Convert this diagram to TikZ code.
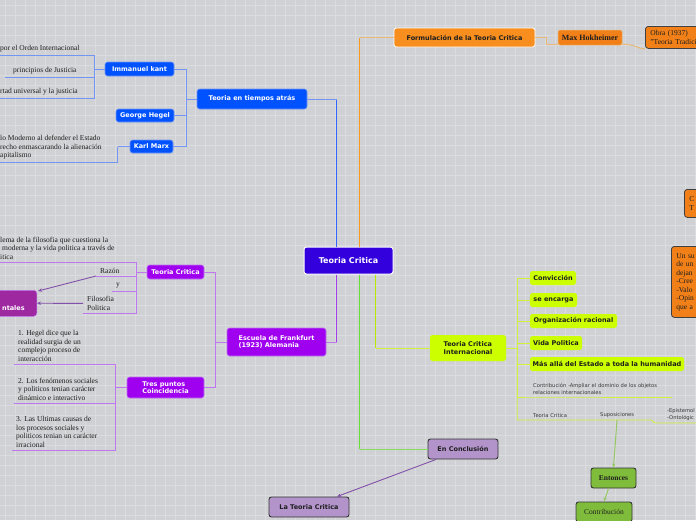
\documentclass[tikz,border=0pt]{standalone}
\usepackage{fontspec}
\setmainfont{Liberation Serif}
\setsansfont{DejaVu Sans}
\usetikzlibrary{arrows.meta}

\definecolor{bgc}{RGB}{208,209,212}
\definecolor{gridc}{RGB}{219,220,223}
\definecolor{rootc}{RGB}{51,0,221}
\definecolor{bluec}{RGB}{0,82,255}
\definecolor{bluelc}{RGB}{50,100,255}
\definecolor{bluesc}{RGB}{115,150,245}
\definecolor{orangec}{RGB}{247,142,30}
\definecolor{orange2c}{RGB}{242,128,24}
\definecolor{orangelc}{RGB}{250,155,30}
\definecolor{orangesc}{RGB}{232,185,120}
\definecolor{yellowc}{RGB}{204,255,0}
\definecolor{yellowlc}{RGB}{185,235,0}
\definecolor{yellowsc}{RGB}{212,240,60}
\definecolor{purplec}{RGB}{160,0,240}
\definecolor{purplelc}{RGB}{165,60,235}
\definecolor{purplesc}{RGB}{192,120,240}
\definecolor{magc}{RGB}{158,40,160}
\definecolor{lavc}{RGB}{178,148,202}
\definecolor{greenc}{RGB}{128,188,60}
\definecolor{greenlc}{RGB}{100,225,50}
\definecolor{greensc}{RGB}{135,222,95}
\definecolor{greenac}{RGB}{150,200,100}
\definecolor{parrowc}{RGB}{130,80,170}
\definecolor{inkc}{RGB}{30,30,30}
\definecolor{notec}{RGB}{55,55,55}

\tikzset{
  topic/.style={rounded corners=2.5pt, font=\sffamily\bfseries\fontsize{6.5}{7.6}\selectfont, inner sep=0pt, align=left},
  rootbox/.style={topic, fill=rootc, draw=white, line width=1pt, text=white, font=\sffamily\bfseries\fontsize{8}{9.5}\selectfont},
  bluebox/.style={topic, fill=bluec, draw=bluesc, line width=0.6pt, text=white},
  formbox/.style={topic, fill=orangec, draw=white, line width=0.8pt, text=inkc},
  maxbox/.style={rounded corners=1.5pt, fill=orange2c, draw=orangesc, line width=0.5pt, inner sep=0pt, text=inkc, font=\rmfamily\bfseries\fontsize{8}{9}\selectfont},
  obrabox/.style={rounded corners=3pt, fill=orange2c, draw=black!75, line width=0.8pt, inner xsep=5pt, inner ysep=2pt, align=left, text=inkc, font=\rmfamily\fontsize{7.5}{8.5}\selectfont},
  ybox/.style={topic, fill=yellowc, text=inkc},
  pbox/.style={topic, fill=purplec, draw=purplesc, line width=0.6pt, text=white},
  fbox/.style={rounded corners=3pt, fill=magc, draw=purplesc, line width=0.5pt, text=white, align=right, inner xsep=12pt, inner ysep=0pt, font=\sffamily\bfseries\fontsize{6.5}{10}\selectfont},
  lavbox/.style={topic, fill=lavc, draw=black!80, line width=0.9pt, text=inkc},
  gbox/.style={rounded corners=2.5pt, fill=greenc, draw=black!80, line width=0.9pt, inner sep=0pt, text=inkc, font=\rmfamily\fontsize{7.5}{8.5}\selectfont},
  leaf/.style={font=\rmfamily\fontsize{7.5}{8.5}\selectfont, align=left, inner xsep=4pt, inner ysep=2.5pt, text=inkc},
  note/.style={font=\sffamily\fontsize{5.2}{7}\selectfont, align=left, inner xsep=0pt, inner ysep=2pt, text=notec},
  bline/.style={draw=bluelc, line width=1.4pt},
  bsub/.style={draw=bluesc, line width=1pt},
  oline/.style={draw=orangelc, line width=1.4pt},
  osub/.style={draw=orangesc, line width=1pt},
  yline/.style={draw=yellowlc, line width=1.6pt},
  ysub/.style={draw=yellowsc, line width=0.8pt},
  pline/.style={draw=purplelc, line width=1.4pt},
  psub/.style={draw=purplesc, line width=1pt},
  gline/.style={draw=greenlc, line width=1.4pt},
  gsub/.style={draw=greensc, line width=1pt},
  garrow/.style={draw=greenac, line width=1pt, -{Stealth[length=4pt,width=3.5pt]}},
  parrow/.style={draw=parrowc, line width=0.9pt, -{Stealth[length=4pt,width=3.5pt]}}
}

\begin{document}
\begin{tikzpicture}[x=1pt,y=-1pt]
\useasboundingbox (0,0) rectangle (696,520);
\clip (0,0) rectangle (696,520);
\fill[bgc] (0,0) rectangle (696,520);
\foreach \i in {5,15,...,695} \draw[gridc, line width=0.5pt] (\i,0) -- (\i,520);
\foreach \j in {5,15,...,515} \draw[gridc, line width=0.5pt] (0,\j) -- (696,\j);

\node[rootbox, minimum width=89pt, minimum height=27pt] (root) at (348.5,260.5) {Teoria Critica};

\node[bluebox, minimum width=110pt, minimum height=20pt] (atras) at (252,99) {Teoria en tiempos atrás};
\node[bluebox, minimum width=69pt, minimum height=14pt] (kant) at (139.5,69) {Immanuel kant};
\node[bluebox, minimum width=58pt, minimum height=13pt] (hegel) at (145,115.5) {George Hegel};
\node[bluebox, minimum width=43pt, minimum height=13pt] (marx) at (151.5,146.5) {Karl Marx};
\node[leaf, anchor=south west] (kt1) at (-4,55) {por el Orden Internacional};
\node[leaf, anchor=south west, inner xsep=8pt] (kt2) at (5,77) {principios de Justicia};
\node[leaf, anchor=south west] (kt3) at (-4,98) {rtad universal y la justicia};
\node[leaf, anchor=south west] (mx1) at (-4,162) {lo Moderno al defender el Estado\\recho enmascarando la alienación\\apitalismo};
\coordinate (bc) at ([xshift=33pt]root.north west |- atras.east);
\draw[bline] ([xshift=33pt]root.north west) -- (bc);
\draw[bsub] (bc) -- (atras.east);
\draw[bsub] (kant.east) -| ([xshift=-10pt]atras.west) -- (atras.west);
\draw[bsub] (hegel.east) -| ([xshift=-10pt]atras.west);
\draw[bsub] (marx.east) -| ([xshift=-10pt]atras.west);
\draw[bsub] (kant.west) -- ++(-10,0) coordinate (kj);
\foreach \n in {kt1,kt2,kt3} \draw[bsub] (\n.south west) -| (kj);
\draw[bsub] (marx.west) -- ++(-12,0) coordinate (mj);
\draw[bsub] (mx1.south west) -| (mj);

\node[formbox, minimum width=141pt, minimum height=19pt] (form) at (464.5,37.5) {Formulación de la Teoria Critica};
\node[maxbox, minimum width=64pt, minimum height=15pt] (max) at (590,37.5) {Max Hokheimer};
\node[obrabox, anchor=north west, minimum width=70pt, minimum height=22pt, text width=60pt] (obra) at (645,26) {Obra (1937)\\"Teoria Tradicio};
\node[obrabox, anchor=north west, minimum width=30pt, minimum height=28pt, text width=20pt] (ob2) at (684,189) {C\\T};
\node[obrabox, anchor=north west, minimum width=40pt, minimum height=71pt, text width=30pt] (ob3) at (671,246) {Un su\\de un\\dejan\\-Cree\\-Valo\\-Opin\\que a};
\coordinate (oc) at ([xshift=56pt]root.north west |- form.west);
\draw[oline] ([xshift=56pt]root.north west) -- (oc);
\draw[osub] (oc) -- (form.west);
\draw[osub] (form.east) -- ++(11,0) |- ([yshift=1pt]max.south west);
\draw[osub] ([yshift=1pt]max.south east) .. controls +(14,0) and +(-8,0) .. (obra.south west);

\node[ybox, minimum width=76pt, minimum height=26pt] (tci) at (468,348) {Teoria Critica\\Internacional};
\node[ybox, minimum width=46pt, minimum height=14pt] (conv) at (553,278) {Convicción};
\node[ybox, minimum width=47pt, minimum height=14pt] (enc) at (553.5,300) {se encarga};
\node[ybox, minimum width=87pt, minimum height=14pt] (org) at (573.5,321) {Organización racional};
\node[ybox, minimum width=52pt, minimum height=14pt] (vida) at (556,343) {Vida Politica};
\node[ybox, minimum width=154pt, minimum height=14pt] (mas) at (607,364) {Más allá del Estado a toda la humanidad};
\node[note, anchor=south west, text width=139pt] (contr) at (533,397) {Contribución -Ampliar el dominio de los objetos\\relaciones internacionales};
\node[note, anchor=south west] (tc2) at (533,420) {Teoria Critica};
\node[note, anchor=south west, text width=50pt] (supo) at (600,420) {Suposiciones};
\node[note, anchor=south west, inner xsep=11pt, text width=40pt] (epi) at (656,423) {-Epistemol\\-Ontológic};
\coordinate (yc) at ([xshift=72pt]root.south west |- tci.west);
\draw[yline] ([xshift=72pt]root.south west) -- (yc);
\draw[ysub] (yc) -- (tci.west);
\draw[ysub] (tci.east) -- ++(11,0) coordinate (yj);
\foreach \n in {conv,enc,org,vida,mas} \draw[ysub] (\n.west) -| (yj);
\draw[ysub] (yj) |- (contr.south west) -- (contr.south east);
\draw[ysub] (yj) |- (supo.south east) .. controls +(4,0) and +(-4,0) .. (epi.south west) -- (epi.south east);

\node[gbox, font=\rmfamily\bfseries\fontsize{7.5}{8.5}\selectfont, minimum width=45pt, minimum height=20pt] (ent) at (613.5,478) {Entonces};
\node[gbox, minimum width=56pt, minimum height=20pt] (cont) at (604,512) {Contribución};
\draw[garrow] ([xshift=17pt]supo.south west) -- (ent.north);
\draw[garrow] ([xshift=-5pt]ent.south) -- (cont.north);

\node[lavbox, minimum width=70pt, minimum height=20pt] (conc) at (463,449) {En Conclusión};
\node[lavbox, minimum width=80pt, minimum height=20pt] (ltc) at (309,507) {La Teoria Critica};
\coordinate (gc) at ([xshift=56pt]root.south west |- conc.west);
\draw[gline] ([xshift=56pt]root.south west) -- (gc);
\draw[gsub] (gc) -- (conc.west);
\draw[parrow] ([xshift=-27pt]conc.south) -- ([xshift=28pt]ltc.north);

\node[pbox, minimum width=99pt, minimum height=28pt] (frank) at (276.5,342) {Escuela de Frankfurt\\(1923) Alemania};
\node[pbox, minimum width=57pt, minimum height=14pt] (tcp) at (175.5,272) {Teoria Critica};
\node[pbox, minimum width=77pt, minimum height=21pt] (tres) at (165.5,387.5) {Tres puntos\\Coincidencia};
\node[fbox, anchor=north east, minimum height=26pt, text width=30pt] (fund) at (37,290) {\strut\\\strut ntales};
\node[leaf, anchor=south west] (pc1) at (-4,262) {lema de la filosofia que cuestiona la\\\hspace{2pt}moderna y la vida politica a través de\\itica};
\node[leaf, anchor=south west] (razon) at (96,276) {Razón};
\node[leaf, anchor=south west] (yy) at (112,291) {y};
\node[leaf, anchor=south west] (filo) at (83,313) {Filosofia\\Politica};
\node[leaf, anchor=south west] (t1) at (14,364) {1. Hegel dice que la\\realidad surgia de un\\complejo proceso de\\interacción};
\node[leaf, anchor=south west] (t2) at (14,403) {2. Los fenómenos sociales\\y politicos tenian carácter\\dinámico e interactivo};
\node[leaf, anchor=south west] (t3) at (12,450) {3. Las Ultimas causas de\\los procesos sociales y\\politicos tenian un carácter\\irracional};
\coordinate (pc) at ([xshift=33pt]root.south west |- frank.east);
\draw[pline] ([xshift=33pt]root.south west) -- (pc);
\draw[psub] (pc) -- (frank.east);
\draw[psub] (frank.west) -- ++(-11,0) coordinate (fj);
\draw[psub] (tcp.east) -| (fj);
\draw[psub] (tres.east) -| (fj);
\draw[psub] (tcp.west) -- ++(-10,0) coordinate (pj);
\foreach \n in {pc1,razon,yy,filo} \draw[psub] (\n.south west) -| (pj);
\draw[psub] (tres.west) -- ++(-11,0) coordinate (tj);
\foreach \n in {t1,t2,t3} \draw[psub] (\n.south west) -| (tj);
\draw[parrow] (razon.south west) -- ([xshift=1pt,yshift=-1pt]fund.north east);
\draw[parrow] (filo.west) -- (fund.east);
\end{tikzpicture}
\end{document}
